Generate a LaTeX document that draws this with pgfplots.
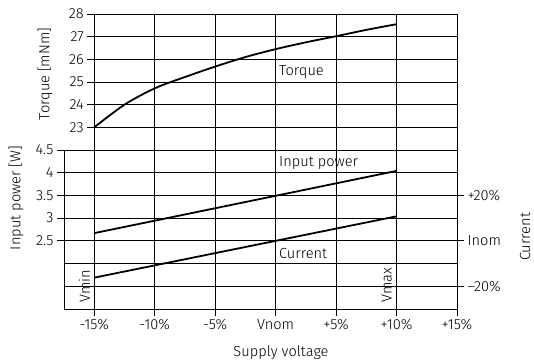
\documentclass[border=0pt]{standalone}
\usepackage{fontspec}
\setmainfont{Fira Sans Light}
\usepackage{pgfplots}
\pgfplotsset{compat=1.18}
\newcommand\fs{\fontsize{14.6bp}{17bp}\selectfont}
\pgfplotsset{
  common/.style={
    scale only axis,
    tick align=outside,
    major tick length=7bp,
    tick style={black, line width=0.9bp},
    axis line style={black, line width=0.9bp},
    major grid style={black, line width=0.9bp},
    every tick label/.append style={font=\fs, text=black},
    clip=false,
  }
}
\begin{document}
\begin{tikzpicture}
\path[use as bounding box] (-64bp,-52bp) rectangle (470bp,309bp);
% upper axis (torque)
\begin{axis}[common,
  at={(30.25bp,159bp)}, anchor=south west,
  width=362.75bp, height=136bp,
  xmin=-15, xmax=15, ymin=22, ymax=28,
  xtick={-15,-10,-5,0,5,10,15}, xticklabels={},
  x tick style={draw=none},
  ytick={23,24,25,26,27,28}, yticklabels={23,24,25,26,27,28},
  ytick pos=left,
  grid=major,
]
\addplot[black, line width=1.8bp, smooth] coordinates {
  (-15,23.0) (-12.5,24.0) (-10,24.72) (-7.5,25.22) (-5,25.68) (-2.5,26.1)
  (0,26.45) (2.5,26.75) (5,27.02) (7.5,27.3) (10,27.55)};
\end{axis}
% lower axis (input power)
\begin{axis}[common,
  at={(0,0)}, anchor=south west,
  width=393bp, height=159bp,
  xmin=-17.5, xmax=15, ymin=1, ymax=4.5,
  xtick={-15,-10,-5,0,5,10,15},
  xticklabels={-15\%,-10\%,-5\%,Vnom,+5\%,+10\%,+15\%},
  ytick={2.5,3,3.5,4,4.5}, yticklabels={2.5,3,3.5,4,4.5},
  extra y ticks={1.5,2}, extra y tick labels={},
  extra y tick style={major tick length=0pt, grid=major},
  xtick pos=bottom, ytick pos=left,
  grid=major,
]
\addplot[black, line width=1.8bp] coordinates {(-15,2.67) (10,4.04)};
\end{axis}
% right axis (current)
\begin{axis}[common,
  at={(0,0)}, anchor=south west,
  width=393bp, height=159bp,
  xmin=-17.5, xmax=15, ymin=-30, ymax=40,
  axis x line=none, axis y line*=right,
  ytick={-20,0,20}, yticklabels={--20\%,Inom,+20\%},
]
\addplot[black, line width=1.8bp] coordinates {(-15,-16.2) (10,10.8)};
\end{axis}
% labels
\node[font=\fs, anchor=west, inner sep=0] at (215bp,237bp) {Torque};
\node[font=\fs, anchor=west, inner sep=0] at (215bp,146bp) {Input power};
\node[font=\fs, anchor=west, inner sep=0] at (215bp,56bp) {Current};
\node[font=\fs, rotate=90, anchor=south west, inner sep=0] at (26bp,6bp) {Vmin};
\node[font=\fs, rotate=90, anchor=south west, inner sep=0] at (328bp,6bp) {Vmax};
\node[font=\fs, rotate=90] at (-19bp,235bp) {Torque [mNm]};
\node[font=\fs, rotate=90] at (-48bp,111bp) {Input power [W]};
\node[font=\fs, rotate=90, inner sep=0] at (461bp,72bp) {Current};
\node[font=\fs] at (217bp,-44bp) {Supply voltage};
\end{tikzpicture}
\end{document}
